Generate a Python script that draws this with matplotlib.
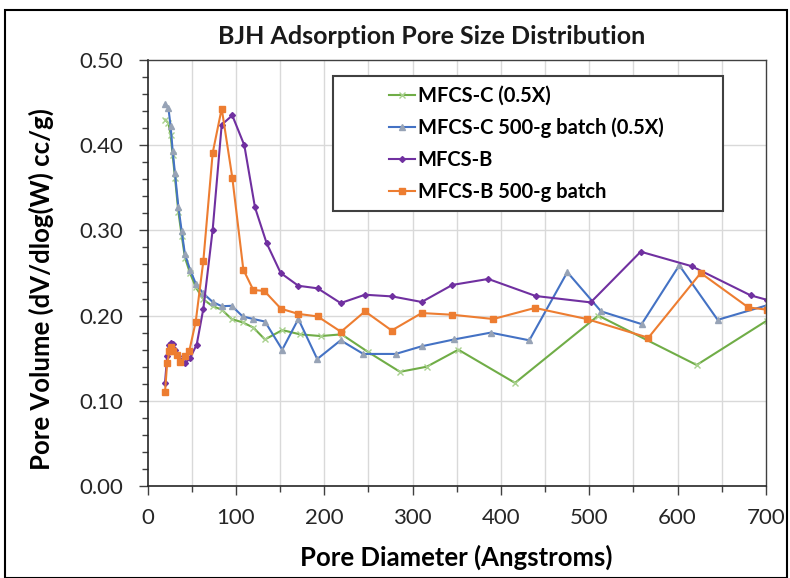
import matplotlib
matplotlib.use("Agg")
import matplotlib.pyplot as plt
from matplotlib.ticker import MultipleLocator, FormatStrFormatter
from matplotlib.patches import Rectangle

plt.rcParams['font.family'] = ['Lato', 'DejaVu Sans']

# ---- data ----
x_c = [19.6, 23.4, 26.0, 28.3, 30.9, 34.7, 38.5, 42.2, 47.9, 54.7, 63.0, 73.6, 83.8, 95.1,
       107.6, 119.6, 132.8, 152.4, 172.5, 195.9, 219.6, 250.0, 285.7, 316.0, 351.8, 416.0,
       510.3, 621.7, 701.0]
y_c = [0.430, 0.426, 0.412, 0.388, 0.362, 0.322, 0.294, 0.268, 0.250, 0.233, 0.219, 0.211,
       0.207, 0.196, 0.192, 0.186, 0.172, 0.183, 0.178, 0.176, 0.178, 0.157, 0.134, 0.140,
       0.160, 0.121, 0.200, 0.142, 0.194]

x_c500 = [19.6, 23.4, 26.0, 28.3, 30.9, 34.7, 38.5, 42.2, 47.9, 54.7, 63.0, 73.6, 83.8, 95.1,
          107.6, 119.6, 132.8, 152.4, 170.6, 192.0, 218.5, 244.2, 280.8, 310.3, 346.9, 388.4,
          432.2, 475.2, 513.4, 559.4, 602.0, 645.5, 701.0]
y_c500 = [0.448, 0.444, 0.422, 0.393, 0.367, 0.328, 0.299, 0.272, 0.254, 0.237, 0.226, 0.216,
          0.211, 0.2115, 0.199, 0.196, 0.193, 0.160, 0.196, 0.149, 0.171, 0.155, 0.155, 0.164,
          0.172, 0.180, 0.171, 0.251, 0.205, 0.190, 0.259, 0.195, 0.212]

x_b = [19.6, 22.0, 24.0, 26.5, 28.5, 31.0, 34.0, 38.0, 42.2, 47.9, 55.5, 63.0, 73.6, 83.8,
       95.8, 109.4, 121.5, 134.7, 150.6, 170.6, 192.5, 218.5, 246.1, 277.0, 310.3, 345.0,
       385.7, 439.4, 501.7, 558.3, 616.0, 682.9, 701.0]
y_b = [0.121, 0.152, 0.165, 0.168, 0.167, 0.160, 0.153, 0.147, 0.144, 0.150, 0.166, 0.208,
       0.301, 0.424, 0.435, 0.400, 0.327, 0.285, 0.250, 0.235, 0.232, 0.2147, 0.2245, 0.2225,
       0.216, 0.236, 0.243, 0.223, 0.2155, 0.275, 0.258, 0.2237, 0.2186]

x_b500 = [19.6, 22.0, 24.5, 26.5, 29.0, 32.8, 36.6, 42.2, 47.0, 54.4, 63.0, 73.6, 83.8, 95.8,
          108.3, 119.6, 132.0, 151.0, 170.6, 192.5, 218.9, 246.1, 276.3, 310.3, 345.0, 391.4,
          438.6, 497.2, 567.0, 626.3, 680.2, 701.0]
y_b500 = [0.110, 0.144, 0.158, 0.163, 0.158, 0.154, 0.145, 0.152, 0.158, 0.193, 0.264, 0.391,
          0.443, 0.362, 0.254, 0.230, 0.229, 0.208, 0.202, 0.199, 0.181, 0.205, 0.1825, 0.203,
          0.201, 0.196, 0.209, 0.196, 0.174, 0.250, 0.2096, 0.207]

labels = ["MFCS-C (0.5X)", "MFCS-C 500-g batch (0.5X)", "MFCS-B", "MFCS-B 500-g batch"]

W, H = 790, 578
fig = plt.figure(figsize=(7.9, 5.78), dpi=100)
ax_l, ax_r, ax_t, ax_b = 147.7, 765.8, 60.0, 486.0
ax = fig.add_axes([ax_l / W, 1 - ax_b / H, (ax_r - ax_l) / W, (ax_b - ax_t) / H])

def axc(px, py):
    return ((px - ax_l) / (ax_r - ax_l), (ax_b - py) / (ax_b - ax_t))

# outer chart border
fig.patches.append(Rectangle((0.006, 0.0), 0.99, 0.983, transform=fig.transFigure,
                             fill=False, edgecolor='black', linewidth=1.5))

ax.plot(x_c, y_c, color='#70AD47', lw=1.5, marker='x', ms=4, mec='#A9D18E', mew=1,
        label=labels[0])
ax.plot(x_c500, y_c500, color='#4472C4', lw=1.5, marker='^', ms=5, mfc='#97A3B6', mec='#97A3B6',
        label=labels[1])
ax.plot(x_b, y_b, color='#7030A0', lw=1.5, marker='D', ms=3, mfc='#7030A0', mec='#7030A0',
        label=labels[2])
ax.plot(x_b500, y_b500, color='#ED7D31', lw=1.5, marker='s', ms=5, mfc='#ED7D31', mec='#ED7D31',
        label=labels[3])

ax.set_xlim(0, 700)
ax.set_ylim(0, 0.5)
ax.xaxis.set_major_locator(MultipleLocator(100))
ax.xaxis.set_minor_locator(MultipleLocator(50))
ax.yaxis.set_major_locator(MultipleLocator(0.1))
ax.yaxis.set_minor_locator(MultipleLocator(0.02))
ax.yaxis.set_major_formatter(FormatStrFormatter('%.2f'))

ax.grid(False)
for xv in range(50, 700, 50):
    ax.axvline(xv, color='#D9D9D9', lw=1, zorder=0)
for yv in [0.1, 0.2, 0.3, 0.4]:
    ax.axhline(yv, color='#D9D9D9', lw=1, zorder=0)

ax.tick_params(axis='both', which='major', direction='out', length=6.5, width=1,
               colors='#404040', labelsize=16, labelcolor='#262626')
ax.tick_params(axis='both', which='minor', direction='out', length=4, width=1, colors='#404040')
ax.tick_params(axis='y', which='major', pad=11)
ax.tick_params(axis='x', which='major', pad=9)
for s in ['left', 'bottom']:
    ax.spines[s].set_color('#262626')
    ax.spines[s].set_linewidth(1.2)
for s in ['top', 'right']:
    ax.spines[s].set_color('#404040')
    ax.spines[s].set_linewidth(1.0)

ax.set_xlabel("Pore Diameter (Angstroms)", fontsize=18.5, fontweight='bold')
ax.xaxis.set_label_coords(*axc(456.0, 545.0))
ax.set_ylabel("Pore Volume (dV/dlog(W) cc/g)", fontsize=18.5, fontweight='bold')
ax.yaxis.set_label_coords(*axc(54.0, 289.0))
fig.text(0.546, 1 - 36 / H, "BJH Adsorption Pore Size Distribution", ha='center', va='center',
         fontsize=18, fontweight='bold', color='#1a1a1a')

# legend frame drawn as its own box, legend entries inside
lx0, ly0 = axc(333, 211)
lx1, ly1 = axc(723, 76)
ax.add_patch(Rectangle((lx0, ly0), lx1 - lx0, ly1 - ly0, transform=ax.transAxes,
                       facecolor='white', edgecolor='#404040', linewidth=1.5, zorder=5))
leg = ax.legend(loc='upper left', bbox_to_anchor=axc(389, 86), frameon=False,
                prop={'weight': 'bold', 'size': 14.5},
                handlelength=1.3, handletextpad=0.12, borderpad=0.0, labelspacing=0.58,
                borderaxespad=0)
leg.set_zorder(6)

fig.savefig("out.png", dpi=100)
